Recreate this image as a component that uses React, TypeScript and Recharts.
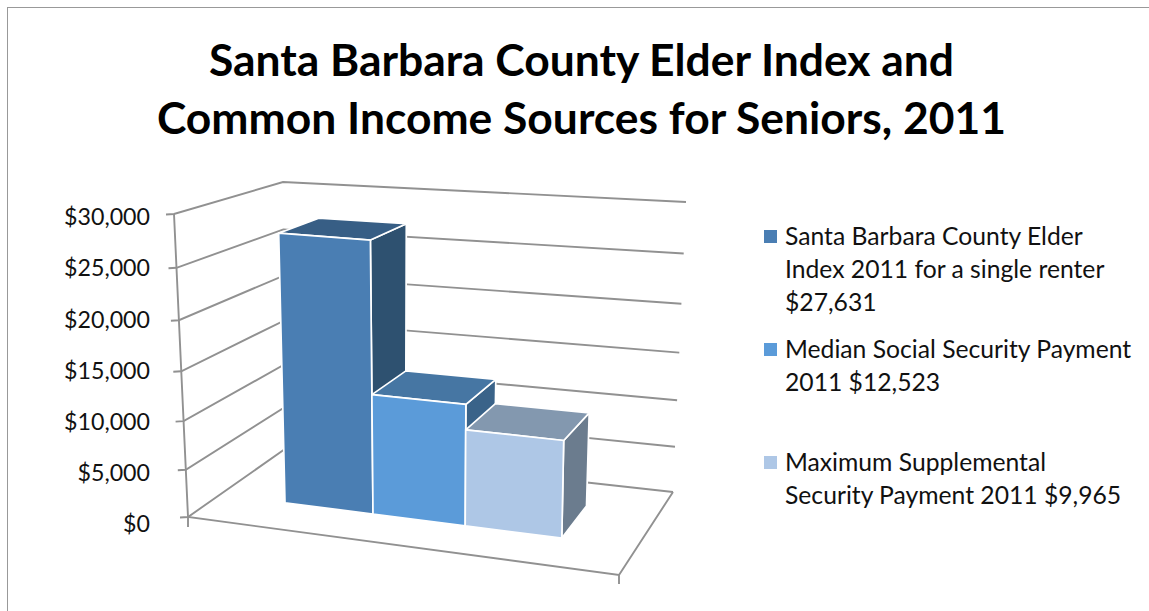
import { Bar, BarChart, CartesianGrid, Legend, XAxis, YAxis } from "recharts";

const CATEGORIES = ["2011"];
const SERIES_KEYS = ["elder", "social", "ssi"];
const SERIES_NAMES = [
  "Santa Barbara County Elder\nIndex 2011 for a single renter\n$27,631",
  "Median Social Security Payment\n2011 $12,523",
  "Maximum Supplemental\nSecurity Payment 2011 $9,965",
];
const SERIES_VALUES = [27631, 12523, 9965];
const Y_TICKS = [0, 5000, 10000, 15000, 20000, 25000, 30000];

const FRONT_COLORS = ["#4A7EB3", "#5B9BD9", "#AEC7E6"];
const TOP_COLORS = ["#375E85", "#4676A3", "#8398AF"];
const SIDE_COLORS = ["#2E5170", "#3A6389", "#6B7C8E"];

const FONT = "Lato, sans-serif";
const GRID = "#919191";

// Plot rectangle handed to Recharts; bars and grid are projected out of it.
const PLOT = { left: 160, top: 217, width: 420, height: 307 };

// Box corners on screen: [wall depth][left/right], floor and ceiling.
const FLOOR = [[[188, 517], [619, 575]], [[285, 449], [673, 492]]];
const CEIL = [[[174, 214], [627, 250]], [[283, 182], [686, 202]]];
const BAR_U = [0.156, 0.82];
const BAR_W = [0.33, 0.73];
const FORESHORTEN = 0.08;
const BAR_SQUEEZE = 0.07;

const mix = (a: number, b: number, t: number) => a + (b - a) * t;

function project(u: number, v: number, w: number) {
  const vp = v / (1 + FORESHORTEN * (1 - v));
  const at = (box: number[][][], i: number) =>
    mix(mix(box[0][0][i], box[0][1][i], u), mix(box[1][0][i], box[1][1][i], u), w);
  return [mix(at(FLOOR, 0), at(CEIL, 0), vp), mix(at(FLOOR, 1), at(CEIL, 1), vp)];
}

const pathOf = (pts: number[][], close = true) =>
  "M" + pts.map((p) => `${p[0].toFixed(1)},${p[1].toFixed(1)}`).join("L") + (close ? "Z" : "");

// Perspective bar: the rectangle from Recharts becomes a box with three faces.
function Bar3D({ x, y, width, index }: any) {
  const slot = (px: number) => (px - PLOT.left) / PLOT.width;
  const toU = (s: number) => mix(BAR_U[0], BAR_U[1], s - BAR_SQUEEZE * s * (1 - s));
  const u0 = toU(slot(x));
  const u1 = toU(slot(x + width));
  const v = (PLOT.top + PLOT.height - y) / PLOT.height;
  const [w0, w1] = BAR_W;
  const stroke = { stroke: "#fff", strokeWidth: 1.7, strokeLinejoin: "round" as const };
  return (
    <g>
      <path
        d={pathOf([project(u1, 0, w0), project(u1, 0, w1), project(u1, v, w1), project(u1, v, w0)])}
        fill={SIDE_COLORS[index]}
        {...stroke}
      />
      <path
        d={pathOf([project(u0, v, w0), project(u0, v, w1), project(u1, v, w1), project(u1, v, w0)])}
        fill={TOP_COLORS[index]}
        {...stroke}
      />
      <path
        d={pathOf([project(u0, 0, w0), project(u1, 0, w0), project(u1, v, w0), project(u0, v, w0)])}
        fill={FRONT_COLORS[index]}
        {...stroke}
      />
    </g>
  );
}

// One value level across the side wall and the back wall, with its axis tick.
function WallLine({ y1 }: any) {
  const v = (PLOT.top + PLOT.height - y1) / PLOT.height;
  const a = project(0, v, 0);
  const line = { fill: "none", stroke: GRID, strokeWidth: 1.9 };
  const isFloor = v < 0.001;
  const frontRight = project(1, 0, 0);
  return (
    <g>
      <path d={pathOf([[a[0] - 8, a[1] + 0.5], a, project(0, v, 1), project(1, v, 1)], false)} {...line} />
      {isFloor && (
        <>
          <path d={pathOf([project(0, 1, 0), a, frontRight, project(1, 0, 1)], false)} {...line} />
          <path d={pathOf([a, [a[0], a[1] + 10]], false)} {...line} />
          <path d={pathOf([frontRight, [frontRight[0], frontRight[1] + 9]], false)} {...line} />
        </>
      )}
    </g>
  );
}

function LegendBlock({ payload }: any) {
  return (
    <div style={{ fontFamily: FONT, fontSize: 24.7, color: "#111", lineHeight: "32.8px" }}>
      {(payload ?? []).map((item: any) => (
        <div key={item.value} style={{ height: 113, position: "relative", paddingLeft: 21, whiteSpace: "pre-line" }}>
          <span
            style={{
              position: "absolute",
              left: 0,
              top: 10,
              width: 13,
              height: 13,
              backgroundColor: item.color,
            }}
          />
          {item.value}
        </div>
      ))}
    </div>
  );
}

const row: Record<string, string | number> = { name: CATEGORIES[0] };
SERIES_KEYS.forEach((k, i) => (row[k] = SERIES_VALUES[i]));
const data = [row];

export default function App() {
  return (
    <div style={{ position: "absolute", left: 0, top: 0, width: 1149, height: 611, overflow: "hidden", background: "#fff" }}>
      <div
        style={{
          position: "absolute",
          left: 7,
          top: 7,
          right: -5,
          bottom: -5,
          borderLeft: "1.5px solid #999",
          borderTop: "1.5px solid #999",
        }}
      />
      <div
        style={{
          position: "absolute",
          left: 0,
          width: 1163,
          top: 30,
          textAlign: "center",
          fontFamily: FONT,
          fontWeight: 700,
          fontSize: 44.4,
          lineHeight: "58px",
          color: "#000",
        }}
      >
        Santa Barbara County Elder Index and
        <br />
        Common Income Sources for Seniors, 2011
      </div>
      <BarChart
        width={1149}
        height={611}
        data={data}
        barCategoryGap="0%"
        barGap={0}
        margin={{ top: PLOT.top, bottom: 611 - PLOT.top - PLOT.height, left: 0, right: 184 }}
        style={{ position: "absolute", left: 0, top: 0 }}
      >
        <CartesianGrid vertical={false} horizontal={(p: any) => <WallLine key={p.y1} {...p} />} />
        <XAxis dataKey="name" hide />
        <YAxis
          width={PLOT.left}
          domain={[0, 30000]}
          ticks={Y_TICKS}
          axisLine={false}
          tickSize={0}
          tickMargin={10}
          tickFormatter={(v: number) => `$${v.toLocaleString("en-US")}`}
          tick={{ fontFamily: FONT, fontSize: 23.2, fill: "#111" }}
        />
        <Legend
          layout="vertical"
          align="right"
          verticalAlign="top"
          width={385}
          itemSorter={null}
          content={<LegendBlock />}
          wrapperStyle={{ left: 764, top: 220 }}
        />
        {SERIES_KEYS.map((k, i) => (
          <Bar
            key={k}
            dataKey={k}
            name={SERIES_NAMES[i]}
            fill={FRONT_COLORS[i]}
            isAnimationActive={false}
            shape={(p: any) => <Bar3D {...p} index={i} />}
          />
        ))}
      </BarChart>
    </div>
  );
}
